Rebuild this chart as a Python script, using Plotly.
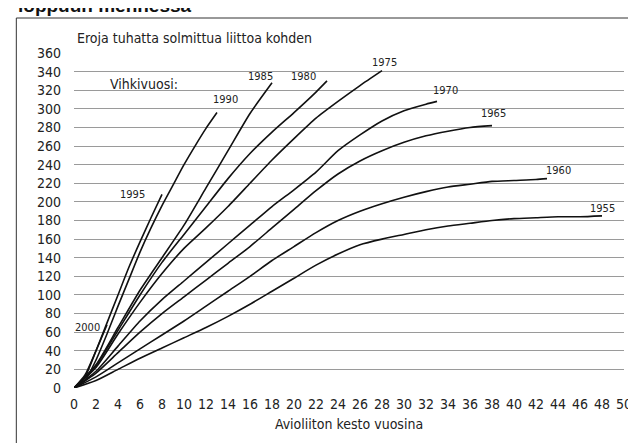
import plotly.graph_objects as go

# cumulative divorces per 1000 marriages, by marriage cohort (year of wedding)
years_1955 = [0, 2, 4, 6, 8, 10, 12, 14, 16, 18, 20, 22, 24, 26, 28, 30, 32, 34, 36, 38, 40, 42, 44, 46, 48]
vals_1955 = [0, 8, 20, 32, 43, 54, 65, 77, 90, 104, 118, 132, 144, 154, 160, 165, 170, 174, 177, 180, 182, 183, 184, 184, 185]

years_1960 = [0, 2, 4, 6, 8, 10, 12, 14, 16, 18, 20, 22, 24, 26, 28, 30, 32, 34, 36, 38, 40, 42, 43]
vals_1960 = [0, 12, 27, 42, 57, 72, 88, 104, 120, 137, 152, 167, 180, 190, 198, 205, 211, 216, 219, 222, 223, 224, 225]

years_1965 = [0, 2, 4, 6, 8, 10, 12, 14, 16, 18, 20, 22, 24, 26, 28, 30, 32, 34, 36, 38]
vals_1965 = [0, 16, 38, 60, 80, 98, 116, 134, 152, 172, 192, 212, 230, 244, 255, 264, 271, 276, 280, 282]

years_1970 = [0, 2, 4, 6, 8, 10, 12, 14, 16, 18, 20, 22, 24, 26, 28, 30, 32, 33]
vals_1970 = [0, 18, 45, 72, 95, 115, 135, 155, 175, 195, 213, 232, 255, 272, 287, 298, 305, 308]

years_1975 = [0, 2, 4, 6, 8, 10, 12, 14, 16, 18, 20, 22, 24, 26, 28]
vals_1975 = [0, 22, 58, 92, 123, 150, 172, 195, 220, 245, 268, 290, 308, 325, 341]

years_1980 = [0, 2, 4, 6, 8, 10, 12, 14, 16, 18, 20, 22, 23]
vals_1980 = [0, 24, 62, 100, 135, 165, 195, 225, 252, 275, 296, 318, 330]

years_1985 = [0, 2, 4, 6, 8, 10, 12, 14, 16, 18]
vals_1985 = [0, 25, 65, 105, 140, 175, 215, 255, 295, 328]

years_1990 = [0, 1, 2, 3, 4, 5, 6, 7, 8, 9, 10, 11, 12, 13]
vals_1990 = [0, 8, 30, 58, 88, 117, 146, 172, 196, 218, 240, 260, 279, 296]

years_1995 = [0, 1, 2, 3, 4, 5, 6, 7, 8]
vals_1995 = [0, 12, 40, 70, 100, 130, 157, 183, 208]

years_2000 = [0, 1, 2, 3]
vals_2000 = [0, 14, 40, 68]

x_ticks = list(range(0, 51, 2))
y_ticks = list(range(0, 361, 20))

cohorts = [
    ("1955", years_1955, vals_1955, (0, 7)),
    ("1960", years_1960, vals_1960, (11, 8)),
    ("1965", years_1965, vals_1965, (1, 12)),
    ("1970", years_1970, vals_1970, (8, 11)),
    ("1975", years_1975, vals_1975, (2, 8)),
    ("1980", years_1980, vals_1980, (-24, 4)),
    ("1985", years_1985, vals_1985, (-12, 6)),
    ("1990", years_1990, vals_1990, (8, 13)),
    ("1995", years_1995, vals_1995, (-30, 0)),
    ("2000", years_2000, vals_2000, (-20, -3)),
]

FONT = "Liberation Sans Narrow, DejaVu Sans Condensed, Arial Narrow, sans-serif"

fig = go.Figure()
annotations = []
for name, xs, ys, (dx, dy) in cohorts:
    fig.add_trace(go.Scatter(
        x=xs, y=ys, mode="lines", name=name,
        line=dict(color="#111111", width=1.6, shape="spline", smoothing=0.6),
        hoverinfo="skip",
    ))
    annotations.append(dict(
        x=xs[-1], y=ys[-1], xref="x", yref="y", text=name, showarrow=False,
        xshift=dx, yshift=dy, font=dict(size=11, color="#222222", family=FONT),
    ))

annotations += [
    dict(text="Eroja tuhatta solmittua liittoa kohden", xref="paper", yref="paper",
         x=0.002, y=1 + 15 / 335, xanchor="left", yanchor="middle", showarrow=False,
         font=dict(size=14, color="#222222", family=FONT)),
    dict(text="Vihkivuosi:", xref="x", yref="y", x=3.1, y=327, xanchor="left",
         yanchor="middle", showarrow=False, font=dict(size=14, color="#222222", family=FONT)),
    # heading above the frame, cut off by the top edge as in the source scan
    dict(text="<b>loppuun mennessä</b>", xref="paper", yref="paper",
         x=(8 - 66) / 553, y=(380 + 3) / 335, xanchor="left", yanchor="middle",
         showarrow=False, font=dict(size=19, color="#111111", family="Liberation Sans, Arial, sans-serif")),
]

fig.update_layout(
    width=636, height=443,
    margin=dict(l=66, r=17, t=45, b=63),
    paper_bgcolor="white", plot_bgcolor="white",
    showlegend=False, hovermode=False,
    font=dict(family=FONT, size=14, color="#222222"),
    annotations=annotations,
    shapes=[dict(type="rect", xref="paper", yref="paper",
                 x0=(8 - 66) / 553, x1=(630 - 66) / 553,
                 y0=(380 - 441) / 335, y1=(380 - 10) / 335,
                 line=dict(color="#333333", width=1), fillcolor="rgba(0,0,0,0)", layer="below")],
)
fig.update_xaxes(
    range=[0, 50], tickvals=x_ticks, showgrid=False, zeroline=False, showline=False,
    ticks="", tickfont=dict(size=14, family=FONT), ticklabelstandoff=6,
    title=dict(text="Avioliiton kesto vuosina", font=dict(size=14, family=FONT), standoff=8),
)
fig.update_yaxes(
    range=[0, 360], tickvals=y_ticks, showgrid=True, gridcolor="#9a9a9a", gridwidth=1,
    zeroline=False, showline=False, ticks="", tickfont=dict(size=14, family=FONT),
    ticklabelstandoff=12,
)

fig.write_html("out.html")
